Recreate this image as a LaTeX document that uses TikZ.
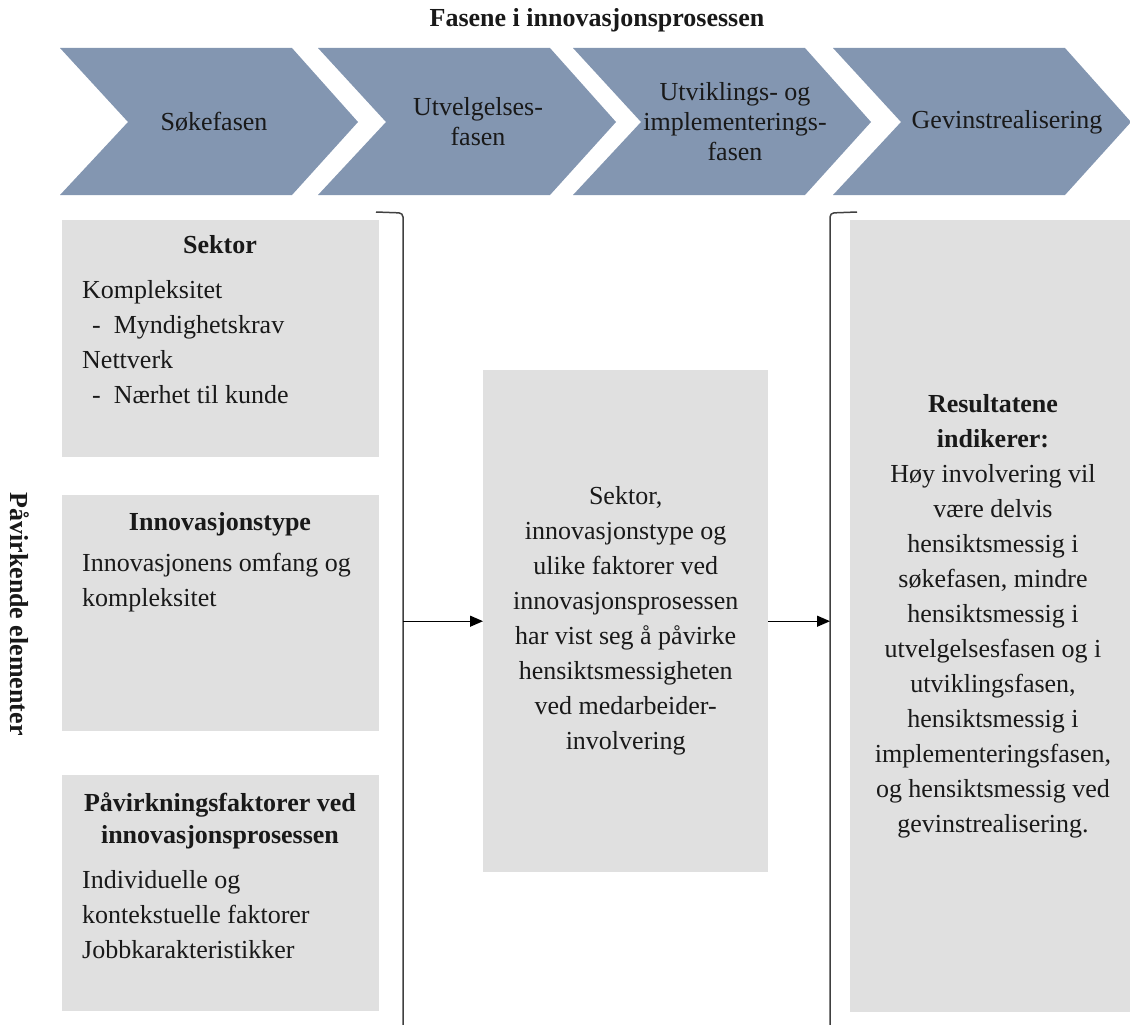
\documentclass[tikz,border=0pt]{standalone}
\usepackage{fontspec}
\setmainfont{Liberation Serif}
\usetikzlibrary{arrows.meta, positioning}

\definecolor{phase}{RGB}{131,150,177}
\definecolor{boxgray}{RGB}{224,224,224}

\tikzset{
  txt/.style={font=\fontsize{26}{35}\selectfont, inner sep=0pt, text=black!90},
  head/.style={txt, font=\fontsize{26}{32}\selectfont\bfseries},
  phasetxt/.style={txt, font=\fontsize{26}{30}\selectfont, align=center},
  factor/.style={fill=boxgray, draw=none, anchor=north west, inner sep=0pt},
  bracket/.style={draw=black!75, line width=1.5pt, rounded corners=4pt},
  link/.style={->, draw=black, line width=1.2pt}
}

\begin{document}
\begin{tikzpicture}[x=1pt, y=-1pt, >={Triangle[length=13pt,width=11pt]}]
\useasboundingbox (0,0) rectangle (1130,1025);

% title and side label
\node[head] (title) at (597,20) {Fasene i innovasjonsprosessen};
\node[head, rotate=-90] (elem) at (20,614) {Påvirkende elementer};

% phases
\foreach \x/\dx/\name/\lbl in {60/154/sok/{Søkefasen},
                               318/160/utv/{Utvelgelses-\\fasen},
                               573/162/impl/{Utviklings- og\\implementerings-\\fasen},
                               833/174/gev/{Gevinstrealisering}}
{
  \fill[phase] (\x,48) -- ++(232,0) -- ++(66,74) -- ++(-66,73) -- ++(-232,0) -- ++(68,-73) -- cycle;
  \node[phasetxt] (\name) at (\x+\dx,122) {\lbl};
}

% factor boxes
\node[factor, minimum width=317pt, minimum height=237pt] (sektor) at (62,220) {};
\node[factor, minimum width=317pt, minimum height=236pt] (type) at (62,495) {};
\node[factor, minimum width=317pt, minimum height=236pt] (faktor) at (62,775) {};
\node[factor, minimum width=285pt, minimum height=502pt] (mid) at (483,370) {};
\node[factor, minimum width=290pt, minimum height=792pt] (res) at (850,220) {};

\node[head, anchor=base] (sektorhead) at (220,253) {Sektor};
\node[txt, align=left, anchor=north west] (sektortxt) at (82,280)
  {Kompleksitet\\\hspace*{10pt}-\hspace*{13pt}Myndighetskrav\\Nettverk\\\hspace*{10pt}-\hspace*{13pt}Nærhet til kunde};

\node[head, anchor=base] (typehead) at (220,530) {Innovasjonstype};
\node[txt, align=left, anchor=north west] (typetxt) at (82,553)
  {Innovasjonens omfang og\\kompleksitet};

\node[head, align=center, anchor=north] (faktorhead) at (220,792)
  {Påvirkningsfaktorer ved\\innovasjonsprosessen};
\node[txt, align=left, anchor=north west] (faktortxt) at (82,870)
  {Individuelle og\\kontekstuelle faktorer\\Jobbkarakteristikker};

\node[txt, align=center] (midtxt) at (mid.center)
  {Sektor,\\innovasjonstype og\\ulike faktorer ved\\innovasjonsprosessen\\har vist seg å påvirke\\hensiktsmessigheten\\ved medarbeider-\\involvering};

\node[txt, align=center] (restxt) at (993,616)
  {\textbf{Resultatene}\\\textbf{indikerer:}\\Høy involvering vil\\være delvis\\hensiktsmessig i\\søkefasen, mindre\\hensiktsmessig i\\utvelgelsesfasen og i\\utviklingsfasen,\\hensiktsmessig i\\implementeringsfasen,\\og hensiktsmessig ved\\gevinstrealisering.};

% brackets and arrows
\coordinate (lbr) at (403,213);
\coordinate (rbr) at (830,213);
\draw[bracket] (376,212) -- (lbr) -- (403,1030);
\draw[bracket] (857,212) -- (rbr) -- (830,1030);

\draw[link] (lbr |- mid.west) -- (mid.west);
\draw[link] (mid.east) -- (rbr |- mid.east);

\end{tikzpicture}
\end{document}
